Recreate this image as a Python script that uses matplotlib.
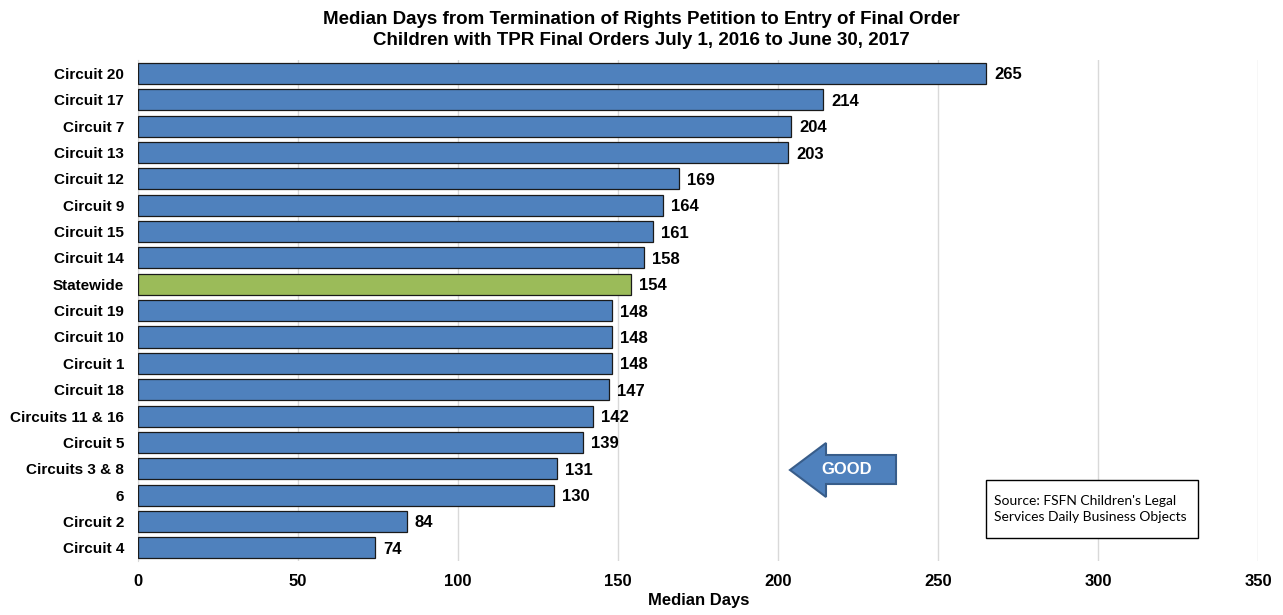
import matplotlib
matplotlib.use("Agg")
import matplotlib.pyplot as plt
from matplotlib.patches import Polygon, Rectangle
from matplotlib import font_manager

categories = ["Circuit 20", "Circuit 17", "Circuit 7", "Circuit 13", "Circuit 12",
              "Circuit 9", "Circuit 15", "Circuit 14", "Statewide", "Circuit 19",
              "Circuit 10", "Circuit 1", "Circuit 18", "Circuits 11 & 16", "Circuit 5",
              "Circuits 3 & 8", "6", "Circuit 2", "Circuit 4"]
values = [265, 214, 204, 203, 169, 164, 161, 158, 154, 148, 148, 148, 147, 142, 139,
          131, 130, 84, 74]
xticks = [0, 50, 100, 150, 200, 250, 300, 350]

names = {f.name for f in font_manager.fontManager.ttflist}
narrow = "Liberation Sans Narrow" if "Liberation Sans Narrow" in names else "Liberation Sans"

blue = "#4F81BD"
green = "#9BBB59"
colors = [green if c == "Statewide" else blue for c in categories]

fig = plt.figure(figsize=(12.83, 6.15), dpi=100)
ax = fig.add_axes([0.1076, 0.0878, 0.8733, 0.8142])

y = list(range(len(categories)))
ax.barh(y, values, height=0.8, color=colors, edgecolor="#1a1a1a", linewidth=0.9, zorder=3)
ax.set_ylim(len(categories) - 0.5, -0.5)
ax.set_xlim(0, 350)
ax.set_yticks(y)
ax.set_yticklabels(categories, fontfamily="Liberation Sans", fontweight="bold", fontsize=11)
ax.set_xticks(xticks)
ax.set_xticklabels([str(t) for t in xticks], fontfamily=narrow, fontweight="bold", fontsize=12)
ax.tick_params(axis="both", length=0)
ax.tick_params(axis="x", pad=9)
ax.tick_params(axis="y", pad=10)
ax.grid(axis="x", color="#D9D9D9", linewidth=1, zorder=0)
for s in ["top", "right", "bottom"]:
    ax.spines[s].set_visible(False)
ax.spines["left"].set_color("#D9D9D9")

for yi, v in zip(y, values):
    ax.text(v + 2.5, yi, str(v), va="center_baseline", ha="left", fontfamily="Liberation Sans",
            fontweight="bold", fontsize=12)

ax.set_xlabel("Median Days", fontfamily=narrow, fontweight="bold", fontsize=12, labelpad=3)

fig.text(0.5, 0.969, "Median Days from Termination of Rights Petition to Entry of Final Order",
         ha="center", va="center", fontfamily=narrow, fontweight="bold", fontsize=13.5)
fig.text(0.5, 0.934, "Children with TPR Final Orders July 1, 2016 to June 30, 2017",
         ha="center", va="center", fontfamily=narrow, fontweight="bold", fontsize=13.5)

# GOOD arrow (figure pixel coordinates converted to fraction)
W, H = 1283, 615
def fp(px, py):
    return (px / W, 1 - py / H)
pts = [fp(790, 470), fp(826, 443), fp(826, 455), fp(896, 455), fp(896, 484),
       fp(826, 484), fp(826, 497)]
fig.patches.append(Polygon(pts, closed=True, transform=fig.transFigure,
                           facecolor=blue, edgecolor="#385D8A", linewidth=1.5, zorder=5))
fig.text(*fp(847, 470), "GOOD", ha="center", va="center", color="white",
         fontfamily="Liberation Sans", fontweight="bold", fontsize=12, zorder=6)

# Source box
x0, y0 = fp(986, 538)
fig.patches.append(Rectangle((x0, y0), (1198 - 986) / W, (538 - 480) / H,
                             transform=fig.transFigure, facecolor="white",
                             edgecolor="black", linewidth=1, zorder=5))
fig.text(*fp(994, 509), "Source: FSFN Children's Legal\nServices Daily Business Objects",
         ha="left", va="center", fontfamily="Lato", fontsize=10, linespacing=1.45, zorder=6)

fig.savefig("out.png", dpi=100)
